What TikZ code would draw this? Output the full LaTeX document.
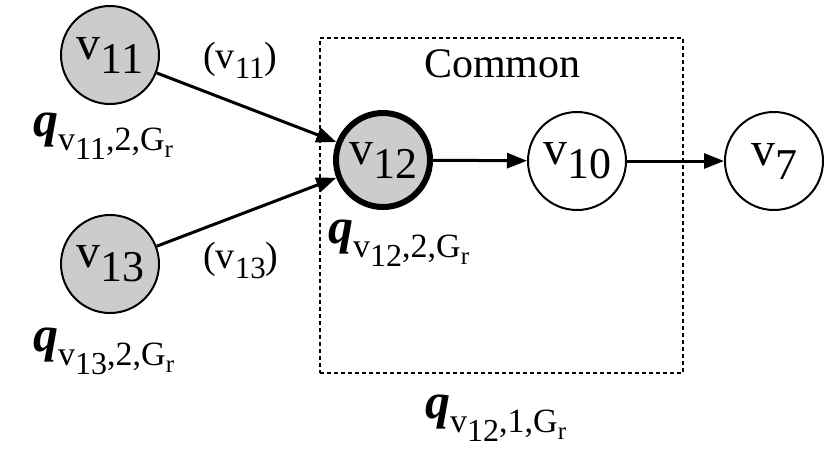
\documentclass[tikz,border=0pt]{standalone}
\usepackage{fontspec}
\setmainfont{Liberation Serif}
\usetikzlibrary{arrows.meta}
\newcommand{\vnode}[1]{{\fontsize{48}{50}\selectfont v\raisebox{-14pt}{\fontsize{44}{46}\selectfont #1}}}
\newcommand{\elab}[1]{{\fontsize{38}{40}\selectfont (v\raisebox{-10pt}{\fontsize{31}{33}\selectfont #1})}}
\newcommand{\qlab}[2]{{\fontsize{50}{52}\selectfont\bfseries\itshape q}\raisebox{-14pt}{\fontsize{34}{36}\selectfont v\raisebox{-9pt}{\fontsize{32}{34}\selectfont #1},#2,G\raisebox{-7pt}{\fontsize{25}{27}\selectfont r}}}
\tikzset{
  vert/.style={circle, draw, line width=2pt, minimum size=98pt, inner sep=0pt},
  gvert/.style={vert, fill=black!20},
  cvert/.style={vert, fill=black!20, line width=6pt, minimum size=94pt},
  edge/.style={line width=3pt, -{Triangle[length=20pt,width=15pt]}},
  lab/.style={inner sep=0pt, anchor=base west}
}
\begin{document}
\begin{tikzpicture}[x=1pt,y=-1pt]
\useasboundingbox (0,0) rectangle (830,475);
\node[draw, dashed, line width=1.5pt, dash pattern=on 4pt off 3pt, minimum width=363pt, minimum height=335pt, inner sep=0pt] (box) at (501.5,205.5) {};
\node[gvert] (v11) at (110,55) {\vnode{11}};
\node[gvert] (v13) at (110,264) {\vnode{13}};
\node[cvert] (v12) at (383,160) {\vnode{12}};
\node[vert] (v10) at (577,161) {\vnode{10}};
\node[vert] (v7) at (774,161) {\vnode{7}};
\draw[edge] (v11) -- (v12);
\draw[edge] (v13) -- (v12);
\draw[edge] (v12) -- (v10);
\draw[edge] (v10) -- (v7);
\node[lab] (l11) at (203,68) {\elab{11}};
\node[lab] (l13) at (203,268) {\elab{13}};
\node[lab] (common) at (424,77) {\fontsize{42}{44}\selectfont Common};
\node[lab] (q11) at (33,136) {\qlab{11}{2}};
\node[lab] (q13) at (33,351) {\qlab{13}{2}};
\node[lab] (q122) at (328,243) {\qlab{12}{2}};
\node[lab] (q121) at (425,418) {\qlab{12}{1}};
\end{tikzpicture}
\end{document}
